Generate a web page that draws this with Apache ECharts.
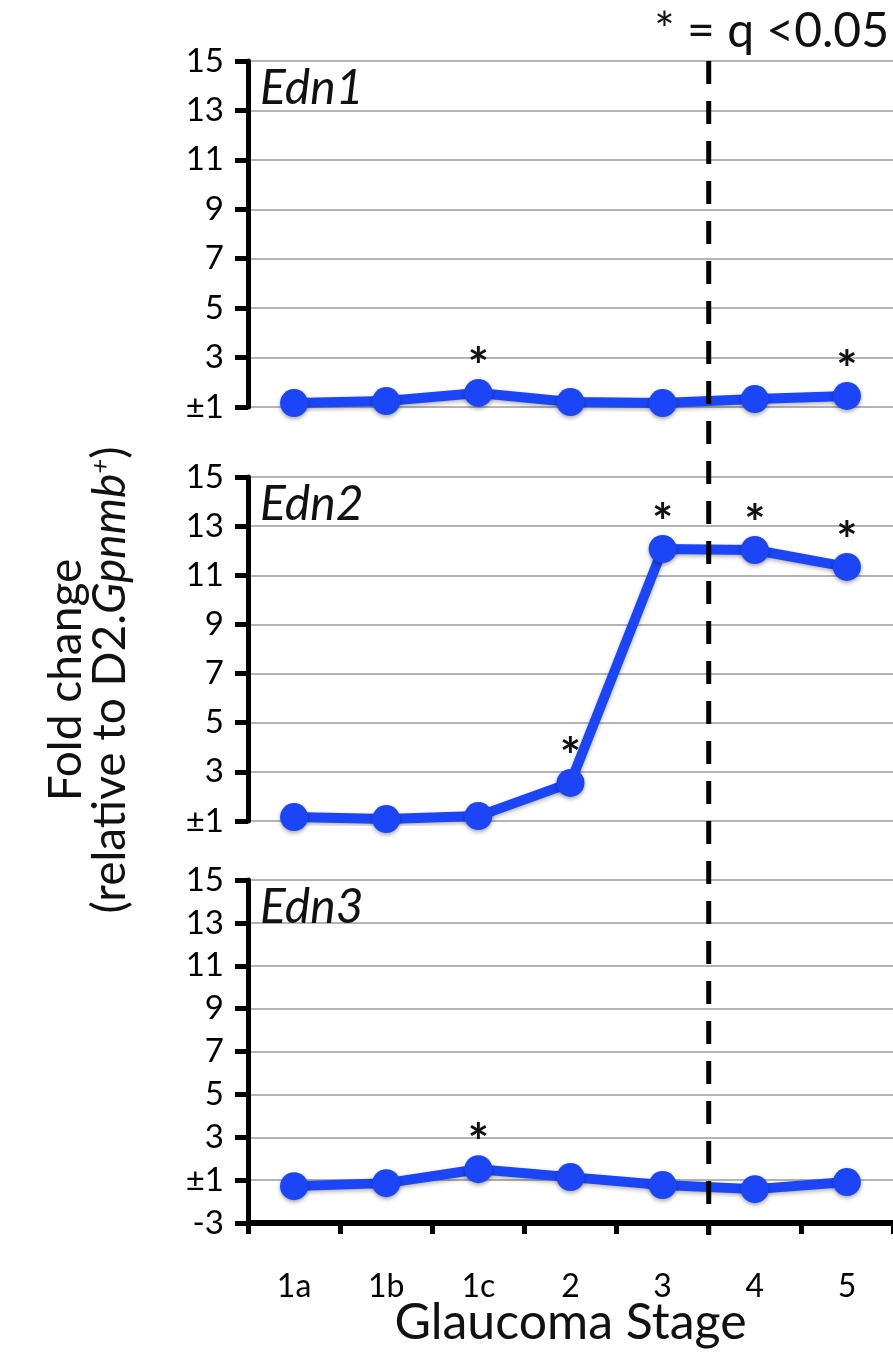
<!DOCTYPE html>
<html>
<head>
<meta charset="utf-8">
<script src="https://cdn.jsdelivr.net/npm/echarts@6/dist/echarts.min.js"></script>
<style>
  html, body { margin: 0; padding: 0; background: #fff; }
  #main { width: 893px; height: 1355px; }
</style>
</head>
<body>
<div id="main"></div>
<script>
  // stages on the x axis
  var stages = ['1a', '1b', '1c', '2', '3', '4', '5'];
  var edn1 = [1.16, 1.24, 1.57, 1.2, 1.16, 1.32, 1.45];
  var edn2 = [1.16, 1.08, 1.2, 2.55, 12.07, 12.03, 11.34];
  var edn3 = [-1.28, -1.14, 1.51, 1.14, -1.23, -1.42, -1.09];
  // q < 0.05 flags
  var sig1 = [0, 0, 1, 0, 0, 0, 1];
  var sig2 = [0, 0, 0, 1, 1, 1, 1];
  var sig3 = [0, 0, 1, 0, 0, 0, 0];
  var genes = ['Edn1', 'Edn2', 'Edn3'];

  var FONT = 'Lato, "Open Sans", sans-serif';
  var BLUE = '#1b45f7';

  // fold change skips (-1, 1): squeeze it so ±1 sits on one tick
  function toAxis(r) { return r >= 1 ? r - 1 : r + 1; }
  function tickLabel(v) {
    if (v === 0) return '±1';
    return v > 0 ? String(v + 1) : String(v - 1);
  }

  var grids = [
    {left: 248, right: 0, top: 61, height: 346, outerBoundsMode: 'none'},
    {left: 248, right: 0, top: 477, height: 344, outerBoundsMode: 'none'},
    {left: 248, right: 0, top: 880, height: 343, outerBoundsMode: 'none'}
  ];

  function makeData(vals, sig) {
    return vals.map(function (v, i) {
      var d = {value: toAxis(v)};
      if (sig[i]) {
        d.label = {show: true};
      }
      return d;
    });
  }

  function yAxis(idx, min) {
    return {
      type: 'value', gridIndex: idx, min: min, max: 14, interval: 2,
      axisLine: {show: true, lineStyle: {color: '#000', width: 5}},
      axisTick: {show: true, length: 13, lineStyle: {color: '#000', width: 5}},
      axisLabel: {
        margin: 24, fontSize: 33, color: '#000', fontFamily: FONT,
        formatter: tickLabel
      },
      splitLine: {show: true, lineStyle: {color: '#b4b4b4', width: 2}}
    };
  }

  function xAxis(idx, visible) {
    return {
      type: 'category', gridIndex: idx, data: stages, boundaryGap: true,
      axisLine: {show: visible, onZero: false, lineStyle: {color: '#000', width: 6}},
      axisTick: {show: visible, length: 11, lineStyle: {color: '#000', width: 5}},
      axisLabel: {show: visible, margin: 48, fontSize: 32, color: '#000', fontFamily: FONT}
    };
  }

  function lineSeries(idx, vals, sig) {
    return {
      type: 'line', xAxisIndex: idx, yAxisIndex: idx,
      data: makeData(vals, sig),
      symbol: 'circle', symbolSize: 28,
      itemStyle: {color: BLUE, shadowBlur: 4, shadowColor: 'rgba(0,0,0,0.35)', shadowOffsetY: 2},
      lineStyle: {color: BLUE, width: 10, shadowBlur: 4, shadowColor: 'rgba(0,0,0,0.3)', shadowOffsetY: 2},
      label: {
        show: false, position: 'top', distance: -14, formatter: '*',
        fontSize: 50, fontWeight: 'bold', color: '#111', fontFamily: FONT
      },
      animation: false
    };
  }

  var myChart = echarts.init(document.getElementById('main'));
  var option = {
    backgroundColor: '#fff',
    animation: false,
    title: genes.map(function (g, i) {
      return {
        text: g, left: 260, top: grids[i].top + 4, padding: 0,
        textStyle: {fontSize: 48, fontStyle: 'italic', fontWeight: 'normal', color: '#111', fontFamily: FONT}
      };
    }),
    grid: grids,
    xAxis: [xAxis(0, false), xAxis(1, false), xAxis(2, true)],
    yAxis: [yAxis(0, 0), yAxis(1, 0), yAxis(2, -2)],
    series: [
      lineSeries(0, edn1, sig1),
      lineSeries(1, edn2, sig2),
      lineSeries(2, edn3, sig3)
    ]
  };
  myChart.setOption(option);

  // dashed divider between stage 3 and 4, through all panels
  var x3 = myChart.convertToPixel({xAxisIndex: 2}, '3');
  var x4 = myChart.convertToPixel({xAxisIndex: 2}, '4');
  var xd = (x3 + x4) / 2;
  var yBottom = myChart.convertToPixel({yAxisIndex: 2}, -2) + 12;
  var xMid = (myChart.convertToPixel({xAxisIndex: 2}, stages[0]) +
              myChart.convertToPixel({xAxisIndex: 2}, stages[stages.length - 1])) / 2;

  myChart.setOption({
    graphic: [
      {
        type: 'line', z: 100,
        shape: {x1: xd, y1: 61, x2: xd, y2: yBottom},
        style: {stroke: '#000', lineWidth: 5, lineDash: [23, 17]}
      },
      {
        type: 'text', z: 100,
        x: 88, y: 680, rotation: Math.PI / 2,
        style: {
          text: 'Fold change\n(relative to D2.{i|Gpnmb}{s|+})',
          x: 0, y: 0, align: 'center', verticalAlign: 'middle',
          font: '46px ' + FONT, fill: '#111', lineHeight: 44,
          rich: {
            i: {fontStyle: 'italic', fontSize: 46, fontFamily: FONT, lineHeight: 44},
            s: {fontStyle: 'italic', fontSize: 26, fontFamily: FONT, verticalAlign: 'top', padding: [0, 0, 18, 0]}
          }
        }
      },
      {
        type: 'text', z: 100,
        style: {
          text: 'Glaucoma Stage', x: xMid, y: 1323, align: 'center', verticalAlign: 'middle',
          font: '50px ' + FONT, fill: '#111'
        }
      },
      {
        type: 'text', z: 100,
        style: {
          text: '* = q <0.05', x: 889, y: 32, align: 'right', verticalAlign: 'middle',
          font: '48px ' + FONT, fill: '#111'
        }
      }
    ]
  });
</script>
</body>
</html>
